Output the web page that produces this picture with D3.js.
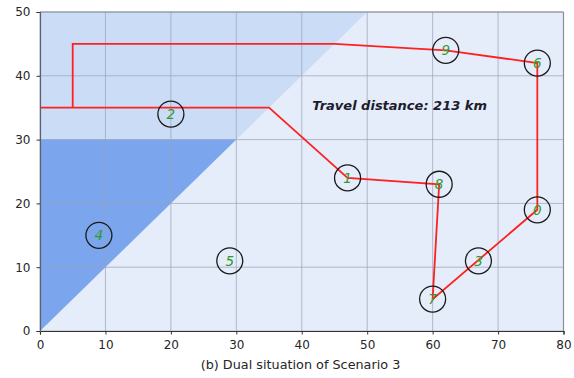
<!DOCTYPE html>
<html>
<head>
<meta charset="utf-8">
<script src="https://cdn.jsdelivr.net/npm/d3@7/dist/d3.min.js"></script>
<style>
  html, body { margin: 0; padding: 0; background: #ffffff; }
  svg { display: block; }
</style>
</head>
<body>
<svg id="chart" width="574" height="378"></svg>
<script>
// Customer nodes: id, x, y
const nodeIds = [0, 1, 2, 3, 4, 5, 6, 7, 8, 9];
const nodeX   = [76, 47, 20, 67, 9, 29, 76, 60, 61, 62];
const nodeY   = [19, 24, 34, 11, 15, 11, 42, 5, 23, 44];

// Vehicle route (polyline vertices)
const routeX = [0, 5, 5, 45, 62, 76, 76, 60, 61, 47, 35, 5];
const routeY = [35, 35, 45, 45, 44, 42, 19, 5, 23, 24, 35, 35];

// Shaded regions
const lightRegionX = [0, 0, 50];
const lightRegionY = [0, 50, 50];
const darkRegionX = [0, 0, 30];
const darkRegionY = [0, 30, 30];

const xTicks = [0, 10, 20, 30, 40, 50, 60, 70, 80];
const yTicks = [0, 10, 20, 30, 40, 50];

const distanceLabel = "Travel distance: 213 km";
const caption = "(b) Dual situation of Scenario 3";

const svg = d3.select("#chart");
const plotLeft = 40, plotRight = 563.5, plotTop = 12, plotBottom = 331;

const x = d3.scaleLinear().domain([0, 80]).range([plotLeft, plotRight]);
const y = d3.scaleLinear().domain([0, 50]).range([plotBottom, plotTop]);

// Plot background
svg.append("rect")
  .attr("x", plotLeft).attr("y", plotTop)
  .attr("width", plotRight - plotLeft).attr("height", plotBottom - plotTop)
  .attr("fill", "#e5ecfa");

const poly = (xs, ys) => xs.map((v, i) => [x(v), y(ys[i])]);
const line = d3.line();

svg.append("path")
  .attr("d", line(poly(lightRegionX, lightRegionY)) + "Z")
  .attr("fill", "#cbdcf7");
svg.append("path")
  .attr("d", line(poly(darkRegionX, darkRegionY)) + "Z")
  .attr("fill", "#7ba6ee");

// Grid
const grid = svg.append("g");
xTicks.forEach(t => {
  grid.append("line")
    .attr("x1", x(t)).attr("x2", x(t))
    .attr("y1", plotTop).attr("y2", plotBottom)
    .attr("stroke", "#9aa3b5").attr("stroke-opacity", 0.7).attr("stroke-width", 1);
});
yTicks.forEach(t => {
  grid.append("line")
    .attr("x1", plotLeft).attr("x2", plotRight)
    .attr("y1", y(t)).attr("y2", y(t))
    .attr("stroke", "#9aa3b5").attr("stroke-opacity", 0.7).attr("stroke-width", 1);
});

// Route
svg.append("path")
  .attr("d", line(poly(routeX, routeY)))
  .attr("fill", "none")
  .attr("stroke", "#ff2020")
  .attr("stroke-width", 1.8)
  .attr("stroke-linejoin", "miter");

// Nodes
const nodes = svg.append("g");
nodeIds.forEach((id, i) => {
  nodes.append("circle")
    .attr("cx", x(nodeX[i])).attr("cy", y(nodeY[i]))
    .attr("r", 13)
    .attr("fill", "none")
    .attr("stroke", "#1a1a1a")
    .attr("stroke-width", 1.3);
  nodes.append("text")
    .attr("x", x(nodeX[i])).attr("y", y(nodeY[i]))
    .attr("dy", "0.36em")
    .attr("text-anchor", "middle")
    .attr("font-family", "DejaVu Sans")
    .attr("font-style", "italic")
    .attr("font-size", 13.5)
    .attr("fill", "#2e9a2e")
    .text(id);
});

// Distance annotation
svg.append("text")
  .attr("x", x(41.6)).attr("y", y(35) + 2)
  .attr("font-family", "DejaVu Sans")
  .attr("font-weight", "bold")
  .attr("font-style", "italic")
  .attr("font-size", 13)
  .attr("fill", "#1c1c2c")
  .text(distanceLabel);

// Spines
svg.append("line").attr("x1", plotLeft).attr("x2", plotRight).attr("y1", plotTop).attr("y2", plotTop)
  .attr("stroke", "#8a8f99").attr("stroke-width", 1.2);
svg.append("line").attr("x1", plotRight).attr("x2", plotRight).attr("y1", plotTop).attr("y2", plotBottom)
  .attr("stroke", "#8a8f99").attr("stroke-width", 1.2);

// Axes
const xAxis = d3.axisBottom(x).tickValues(xTicks).tickSize(3.5).tickPadding(5.5);
const yAxis = d3.axisLeft(y).tickValues(yTicks).tickSize(3.5).tickPadding(6);

const gx = svg.append("g").attr("transform", `translate(0,${plotBottom})`).call(xAxis);
const gy = svg.append("g").attr("transform", `translate(${plotLeft},0)`).call(yAxis);

[gx, gy].forEach(g => {
  g.select(".domain").attr("stroke", "#333").attr("stroke-width", 1.2);
  g.selectAll(".tick line").attr("stroke", "#333");
  g.selectAll(".tick text")
    .attr("font-family", "DejaVu Sans")
    .attr("font-size", 12)
    .attr("fill", "#262626");
});
gy.select(".domain").attr("stroke", "#5a6070");

// Caption
svg.append("text")
  .attr("x", 300.5).attr("y", 369)
  .attr("text-anchor", "middle")
  .attr("font-family", "DejaVu Sans")
  .attr("font-size", 12.8)
  .attr("fill", "#262626")
  .text(caption);
</script>
</body>
</html>
